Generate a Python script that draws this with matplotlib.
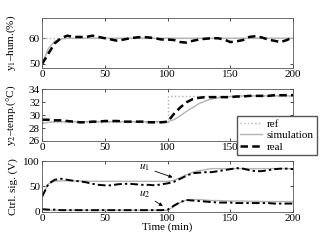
import matplotlib
matplotlib.use('Agg')
import matplotlib.pyplot as plt
import numpy as np

plt.rcParams['font.family'] = ['Liberation Serif', 'DejaVu Serif']
plt.rcParams['font.size'] = 8
plt.rcParams['mathtext.fontset'] = 'stix'

# Time axis (min)
t = np.arange(0, 201, 5)

# Humidity (%)
hum_ref = [60, 60]
hum_ref_t = [0, 200]
hum_sim = [50, 56, 58.8, 59.7, 60, 60, 60, 60, 60, 60, 60, 60, 60, 60, 60, 60, 60, 60, 60, 60, 60,
           60, 60, 60, 60, 60, 60, 60, 60, 60, 60, 60, 60, 60, 60, 60, 60, 60, 60, 60, 60]
hum_real = [50, 54, 58, 60, 61, 60.5, 60.5, 60.5, 61, 60.5, 60, 59.5, 59, 59.5, 60, 60.3, 60.5, 60.3,
            60, 59.5, 59.5, 59.3, 58.5, 58.3, 59, 59.5, 59.8, 60, 60, 59.5, 58.5, 58.8, 59.3, 60.5,
            60.8, 60.3, 59.5, 59, 58.5, 59.3, 60.5]

# Temperature (C)
temp_ref_t = [0, 100, 100, 200]
temp_ref = [29, 29, 33, 33]
temp_sim = [28.7, 28.9, 29, 29, 29, 29, 29, 29, 29, 29, 29, 29, 29, 29, 29, 29, 29, 29, 29, 29, 29,
            29.3, 29.9, 30.6, 31.2, 31.8, 32.2, 32.5, 32.7, 32.8, 32.9, 33, 33, 33, 33, 33, 33, 33,
            33, 33, 33]
temp_real = [29.3, 29.3, 29.2, 29.2, 29.1, 29.0, 28.9, 28.9, 29.0, 29.0, 29.1, 29.1, 29.1, 29.0,
             29.0, 29.0, 29.0, 28.9, 28.9, 28.9, 29.0, 30.2, 31.2, 32.0, 32.5, 32.7, 32.8, 32.8,
             32.8, 32.8, 32.8, 32.9, 32.9, 33.0, 33.0, 33.0, 33.0, 33.1, 33.1, 33.1, 33.1]

# Control signals (V)
u1_sim = [30, 55, 60, 61, 61, 61, 60.5, 60.5, 60, 60, 60, 60, 60, 60, 60, 60, 60, 60, 60, 60, 60,
          62, 67, 73, 78, 81, 83, 85, 85, 85, 85, 85, 85, 85, 85, 85, 85, 85, 85, 85, 85]
u1_real = [30, 55, 63, 65, 63, 61, 60, 58, 55, 53, 52, 52, 54, 55, 55, 54, 53, 53, 52, 54, 56,
           59, 65, 71, 76, 77, 78, 78, 80, 82, 84, 86, 85, 82, 80, 80, 82, 84, 85, 85, 84]
u2_sim = [4, 3, 3, 3, 3, 3, 3, 3, 3, 3, 3, 3, 3, 3, 3, 3, 3, 3, 3, 3, 3,
          10, 18, 23, 24, 24, 23, 22, 22, 21.5, 21, 21, 21, 20.5, 20.5, 20, 20, 20, 20, 20, 20]
u2_real = [5, 4, 4, 3, 3, 3, 3, 3, 3, 3, 3, 3, 3, 3, 3, 3, 3, 3, 3, 3, 4,
           12, 19, 23, 22, 21, 20, 19, 18, 18, 18, 17, 17, 17, 17, 17, 17, 16, 16, 16, 16]

grey = '#b4b4b4'
dash = (0, (3, 1.7))
dashdot = (0, (4, 1.6, 1.2, 1.6))

fig = plt.figure(figsize=(3.24, 2.4), dpi=100)
ax1 = fig.add_axes([0.130, 0.718, 0.775, 0.208])
ax2 = fig.add_axes([0.130, 0.4125, 0.775, 0.215])
ax3 = fig.add_axes([0.130, 0.118, 0.775, 0.211])

ax1.plot(hum_ref_t, hum_ref, color=grey, linestyle=':', linewidth=1.0)
ax1.plot(t, hum_sim, color=grey, linewidth=1.0)
ax1.plot(t, hum_real, color='black', linestyle=dash, linewidth=1.8)
ax1.set_ylim(48.5, 68)
ax1.set_yticks([50, 60])
ax1.set_ylabel('y$_1$–hum.(%)', labelpad=1)

l_ref, = ax2.plot(temp_ref_t, temp_ref, color=grey, linestyle=':', linewidth=1.0, label='ref')
l_sim, = ax2.plot(t, temp_sim, color=grey, linewidth=1.0, label='simulation')
l_real, = ax2.plot(t, temp_real, color='black', linestyle=dash, linewidth=1.8, label='real')
ax2.set_ylim(26, 34)
ax2.set_yticks([26, 28, 30, 32, 34])
ax2.set_ylabel('y$_2$–temp.(°C)', labelpad=1)

ax3.plot(t, u1_sim, color=grey, linewidth=1.0)
ax3.plot(t, u1_real, color='black', linestyle=dashdot, linewidth=1.4)
ax3.plot(t, u2_sim, color=grey, linewidth=1.0)
ax3.plot(t, u2_real, color='black', linestyle=dashdot, linewidth=1.4)
ax3.set_ylim(0, 100)
ax3.set_yticks([0, 50, 100])
ax3.set_ylabel('Ctrl. sig. (V)', labelpad=1)
ax3.set_xlabel('Time (min)', labelpad=0)
ax3.annotate('$u_1$', xy=(106, 66), xytext=(77, 83), fontsize=8,
             arrowprops=dict(arrowstyle='-|>', color='black', lw=0.6, mutation_scale=5))
ax3.annotate('$u_2$', xy=(98, 8), xytext=(77, 30), fontsize=8,
             arrowprops=dict(arrowstyle='-|>', color='black', lw=0.6, mutation_scale=5))

for ax in (ax1, ax2, ax3):
    ax.set_xlim(0, 200)
    ax.set_xticks([0, 50, 100, 150, 200])
    ax.tick_params(direction='in', length=2, width=0.5, top=True, right=True, pad=1.5,
                   labelsize=8)
    for s in ax.spines.values():
        s.set_linewidth(0.6)
        s.set_color('#555555')
    ax.yaxis.set_label_coords(-0.095, 0.5)

fig.legend(handles=[l_ref, l_sim, l_real], loc='lower right', bbox_to_anchor=(0.978, 0.354),
           fancybox=False, edgecolor='#555555', framealpha=1, fontsize=8, handlelength=2.0,
           borderpad=0.3, labelspacing=0.15, handletextpad=0.4, borderaxespad=0)

fig.savefig('out.png', dpi=100)
